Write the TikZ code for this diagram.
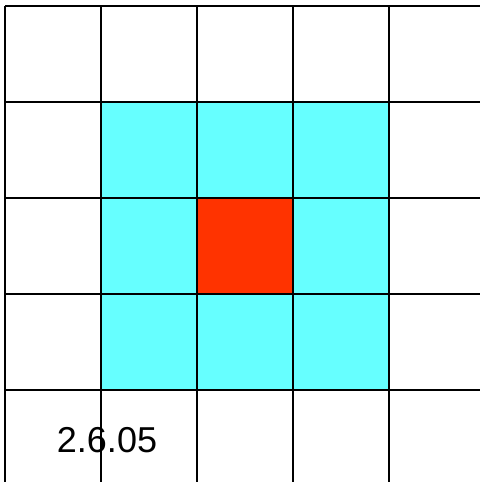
\documentclass[tikz,border=0pt]{standalone}
\usepackage{fontspec}
\setmainfont{Liberation Sans}
\definecolor{cellcyan}{HTML}{66FFFF}
\definecolor{cellred}{HTML}{FF3300}

\newcommand*{\gxmin}{5}
\newcommand*{\gxmax}{480}
\newcommand*{\gymin}{6}
\newcommand*{\gymax}{482}

\begin{document}
\begin{tikzpicture}
[
	gridline/.style={line width=1.9pt,black},
	x=0.75pt,
	y=-0.75pt
]
	\useasboundingbox (0,0) rectangle (480,482);

	% rectangle fills
	\fill[cellcyan] (101,102) rectangle (389,390);
	\fill[cellred] (197,198) rectangle (293,294);

	% grid
	\foreach \x in {5,101,...,389} {
		\draw[gridline] (\x,\gymin) -- (\x,\gymax);
	}
	\foreach \y in {6,102,...,390} {
		\draw[gridline] (\gxmin,\y) -- (\gxmax,\y);
	}

	% date
	\node[anchor=base,inner sep=0pt,font=\fontsize{27}{32}\selectfont] (date) at (107,452) {2.6.05};

\end{tikzpicture}
\end{document}
